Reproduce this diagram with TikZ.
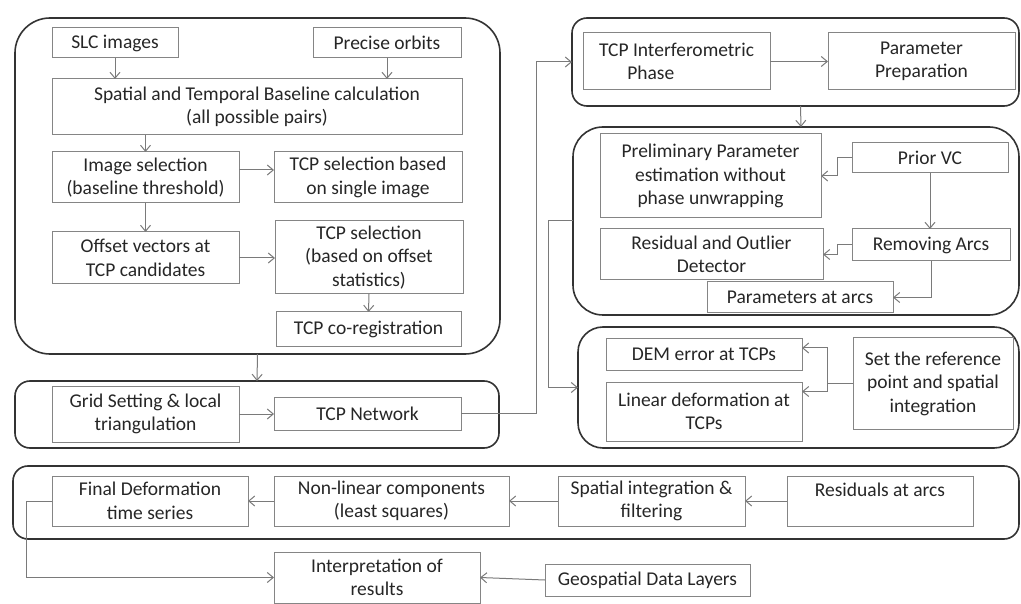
\documentclass[tikz,border=0pt]{standalone}
\usepackage{fontspec}
\setmainfont{Carlito}
\usetikzlibrary{arrows.meta}
\definecolor{boxc}{HTML}{858585}
\definecolor{linec}{HTML}{7A7A7A}
\definecolor{contc}{HTML}{333333}
\definecolor{txt}{HTML}{262626}
\newcommand\mybox[7][box]{%
  \pgfmathsetmacro\bw{#5-#3}\pgfmathsetmacro\bh{#6-#4}%
  \node[#1,minimum width=\bw pt,minimum height=\bh pt] (#2) at ({(#3+#5)/2},{(#4+#6)/2}) {#7};}
\begin{document}
\begin{tikzpicture}[x=1pt,y=-1pt,
  box/.style={draw=boxc, line width=1pt, inner sep=0pt, outer sep=0pt, align=center,
    font=\fontsize{19.5}{23.5}\selectfont, text=txt},
  cont/.style={draw=contc, line width=1.6pt, inner sep=0pt, outer sep=0pt},
  arr/.style={draw=linec, line width=1pt, -{Straight Barb[length=6pt,width=10pt]}},
  ln/.style={draw=linec, line width=1pt}]
\useasboundingbox (0,0) rectangle (1021,604);
% containers
\mybox[cont,rounded corners=35pt]{c1}{15}{18}{500}{354}{}
\mybox[cont,rounded corners=15pt]{c2}{15}{381}{499}{448}{}
\mybox[cont,rounded corners=15pt]{c3}{572}{18}{1019}{106}{}
\mybox[cont,rounded corners=30pt]{c4}{573}{127}{1019}{315}{}
\mybox[cont,rounded corners=25pt]{c5}{578}{327}{1019}{448}{}
\mybox[cont,rounded corners=15pt]{c6}{13}{466}{1019}{539}{}
% boxes
\mybox{slc}{52}{28}{178}{58}{SLC images}
\mybox{orb}{313}{28}{461}{58}{Precise orbits}
\mybox{sp}{52}{79}{462}{135}{Spatial and Temporal Baseline calculation\\(all possible pairs)}
\mybox{imgsel}{52}{152}{239}{203}{Image selection\\(baseline threshold)}
\mybox{tsel}{274}{152}{462}{203}{TCP selection based\\on single image}
\mybox{off}{52}{232}{239}{284}{Offset vectors at\\TCP candidates}
\mybox{tsel2}{275}{221}{463}{294}{TCP selection\\(based on offset\\statistics)}
\mybox{coreg}{276}{312}{461}{347}{TCP co-registration}
\mybox{grid}{52}{386}{239}{442}{Grid Setting \& local\\triangulation}
\mybox{net}{274}{397}{461}{430}{TCP Network}
\mybox[box,align=left]{phase}{583}{33}{770}{90}{TCP Interferometric\\\hspace*{1.45em}Phase}
\mybox{prep}{828}{33}{1015}{90}{Parameter\\Preparation}
\mybox{prelim}{600}{134}{821}{218}{Preliminary Parameter\\estimation without\\phase unwrapping}
\mybox{prior}{852}{143}{1008}{173}{Prior VC}
\mybox{resid}{600}{229}{823}{280}{Residual and Outlier\\Detector}
\mybox{remarcs}{852}{229}{1010}{261}{Removing Arcs}
\mybox{parcs}{707}{282}{893}{313}{Parameters at arcs}
\mybox{dem}{606}{339}{802}{370}{DEM error at TCPs}
\mybox{setref}{853}{338}{1013}{429}{Set the reference\\point and spatial\\integration}
\mybox{lin}{606}{382}{802}{441}{Linear deformation at\\TCPs}
\mybox{final}{52}{476}{248}{526}{Final Deformation\\time series}
\mybox{nonlin}{274}{476}{509}{526}{Non-linear components\\(least squares)}
\mybox{spint}{558}{476}{745}{526}{Spatial integration \&\\filtering}
\mybox{resarcs}{787}{476}{973}{526}{Residuals at arcs\\\mbox{}}
\mybox{interp}{274}{552}{480}{603}{Interpretation of\\results}
\mybox{geo}{545}{564}{750}{596}{Geospatial Data Layers}
% connectors
\draw[arr] (slc.south) -- (slc.south |- sp.north);
\draw[arr] (orb.south) -- (orb.south |- sp.north);
\draw[arr] (imgsel.north |- sp.south) -- (imgsel.north);
\draw[arr] ([yshift=7.5pt]imgsel.east) -- ([yshift=7.5pt]tsel.west);
\draw[arr] (imgsel.south) -- (off.north);
\draw[arr] (off.east) -- (off.east -| tsel2.west);
\draw[arr] (tsel2.south) -- (coreg.north);
\draw[arr] (c1.south) -- (c2.north);
\draw[arr] (grid.east) -- (grid.east -| net.west);
\draw[arr] (net.east) -| (536,62) -- (c3.west);
\draw[arr] (phase.east) -- (phase.east -| prep.west);
\draw[arr] ([xshift=5pt]c3.south) -- ([xshift=5pt]c4.north);
\draw[arr] (prior.west) -- ++(-15,0) |- (prelim.east);
\draw[arr] (prior.south) -- (prior.south |- remarcs.north);
\draw[arr] (remarcs.west) -- ++(-15,0) |- (resid.east);
\draw[arr] (remarcs.south) |- (parcs.east);
\draw[arr] (c4.west) -- ++(-25,0) |- (c5.west);
\coordinate (j5) at ([xshift=-26pt]setref.west);
\draw[ln] (setref.west) -- (j5);
\draw[arr] (j5) |- ([yshift=6.5pt]dem.east);
\draw[arr] (j5) |- ([yshift=20pt]lin.east);
\draw[arr] (resarcs.west) -- (resarcs.west -| spint.east);
\draw[arr] (spint.west) -- (spint.west -| nonlin.east);
\draw[arr] (nonlin.west) -- (nonlin.west -| final.east);
\draw[arr] (final.west) -- ++(-26,0) |- (interp.west);
\draw[arr] (geo.west) -- (interp.east);
\end{tikzpicture}
\end{document}
